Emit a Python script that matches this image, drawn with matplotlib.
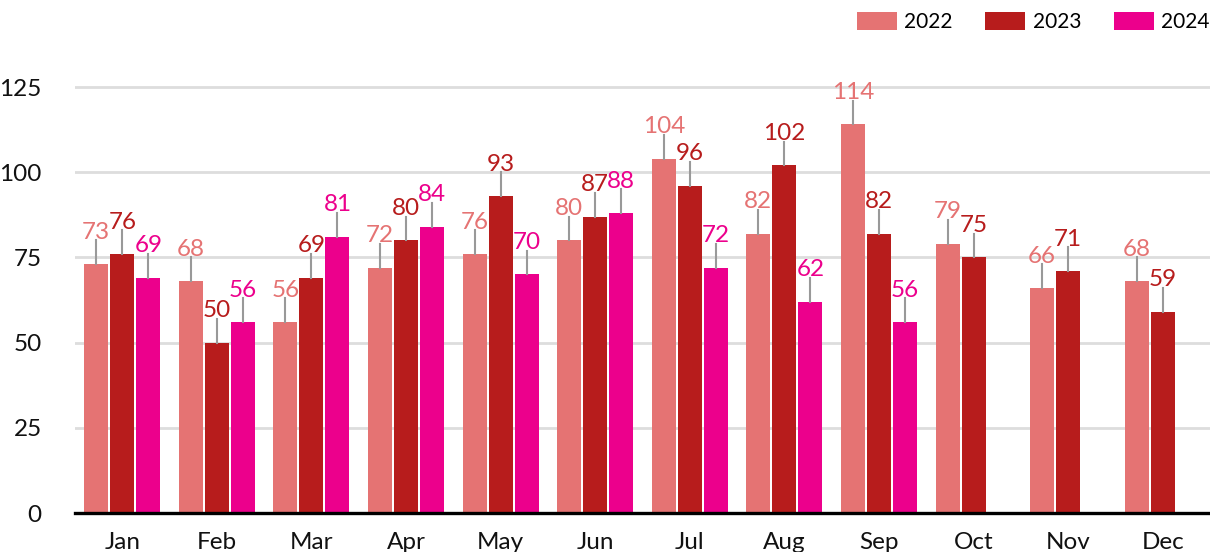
import numpy as np
import matplotlib.pyplot as plt

# datos
meses = ['Jan', 'Feb', 'Mar', 'Apr', 'May', 'Jun', 'Jul', 'Aug', 'Sep', 'Oct', 'Nov', 'Dec']
v2022 = [73, 68, 56, 72, 76, 80, 104, 82, 114, 79, 66, 68]
v2023 = [76, 50, 69, 80, 93, 87, 96, 102, 82, 75, 71, 59]
v2024 = [69, 56, 81, 84, 70, 88, 72, 62, 56, np.nan, np.nan, np.nan]
anios = ['2022', '2023', '2024']
colores = ['#E57373', '#B71C1C', '#EC008C']

plt.rcParams['font.family'] = ['Lato', 'DejaVu Sans']

fig = plt.figure(figsize=(12.1, 5.52), dpi=100)
ax = fig.add_axes([75 / 1210, 39 / 552, 1 - 75 / 1210, (513 - 45) / 552])

x = np.arange(len(meses))
ancho = 0.254
paso = 0.275
series = [v2022, v2023, v2024]

for i, (vals, col, lab) in enumerate(zip(series, colores, anios)):
    pos = x + (i - 1) * paso
    ax.bar(pos, vals, width=ancho, color=col, label=lab, zorder=3)
    for p, v in zip(pos, vals):
        if np.isnan(v):
            continue
        ax.plot([p, p], [v, v + 7], color='#999999', lw=1.5, zorder=4)
        ax.text(p, v + 6.3, f'{v:.0f}', color=col, ha='center', va='bottom',
                fontsize=17.5, zorder=5)

ax.set_xlim(-0.5, 11.5)
ax.set_ylim(0, (513 - 45) / 3.408)
ax.set_yticks([0, 25, 50, 75, 100, 125])
ax.set_xticks(x)
ax.set_xticklabels(meses)
ax.tick_params(axis='both', length=0, labelsize=17.5, colors='#111111')
ax.tick_params(axis='x', pad=14)
ax.tick_params(axis='y', pad=24)

ax.grid(axis='y', color='#dddddd', lw=2, zorder=0)
for s in ['top', 'right', 'left']:
    ax.spines[s].set_visible(False)
ax.spines['bottom'].set_linewidth(2.4)
ax.spines['bottom'].set_color('black')
ax.spines['bottom'].set_zorder(6)

fig.legend(loc='center right', bbox_to_anchor=(1.0, 1 - 22 / 552), ncol=3, frameon=False,
           fontsize=15, handlelength=1.92, handleheight=0.96, columnspacing=1.6,
           handletextpad=0.34, borderaxespad=0, borderpad=0)

fig.savefig('out.png', dpi=100)
